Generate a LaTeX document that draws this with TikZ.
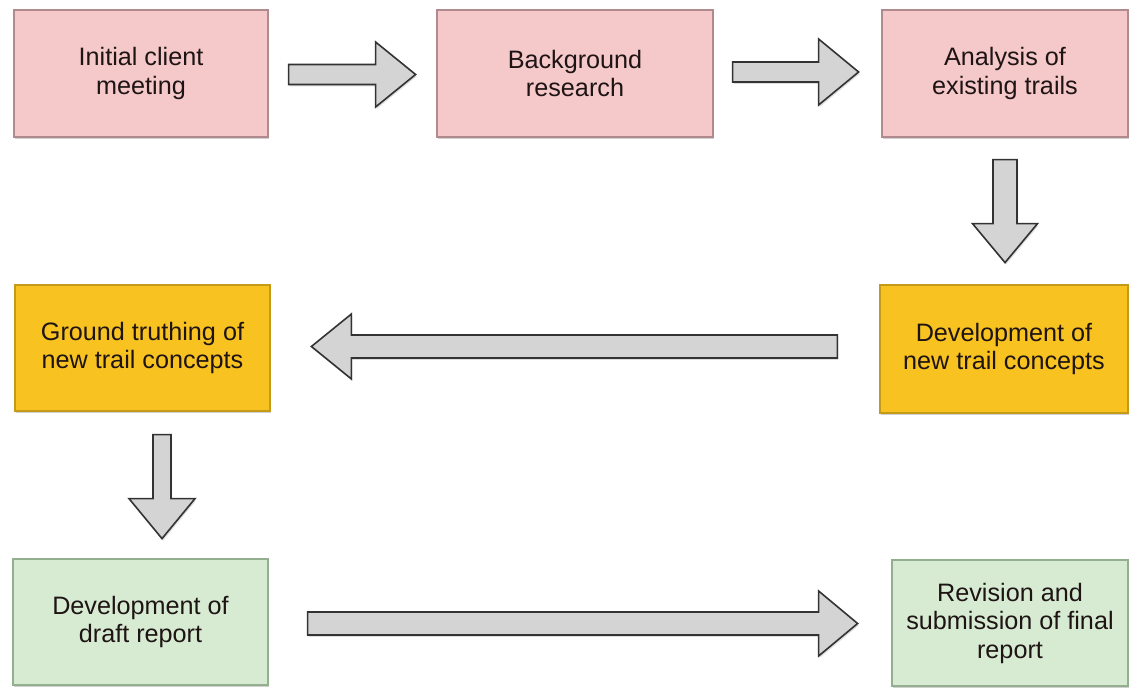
\documentclass[tikz,border=0pt]{standalone}
\usepackage{fontspec}
\setmainfont{Liberation Sans}
\usetikzlibrary{calc,shadows}
\definecolor{pinkfill}{HTML}{F5C8CA}
\definecolor{pinkline}{HTML}{B08a8c}
\definecolor{yelfill}{HTML}{F8C221}
\definecolor{yelline}{HTML}{C49A18}
\definecolor{grnfill}{HTML}{D7EBD3}
\definecolor{grnline}{HTML}{93AF8F}
\definecolor{arrfill}{HTML}{D4D4D4}
\definecolor{arrline}{HTML}{333333}
\definecolor{txt}{HTML}{1E1414}
\newcommand{\blockarr}[6]{%
  \begin{scope}[shift={#1},rotate=#2]
    \draw[arrbody] (0,-#4) -- ({#3-#6},-#4) -- ({#3-#6},-#5) -- (#3,0)
      -- ({#3-#6},#5) -- ({#3-#6},#4) -- (0,#4) -- cycle;
  \end{scope}}
\tikzset{
  stagebox/.style={rectangle, line width=1.2pt, align=center, text=txt,
    font=\fontsize{25.2}{28.5}\selectfont,
    drop shadow={shadow xshift=1pt, shadow yshift=-2.5pt, fill=black!30, opacity=0.6}},
  pinkbox/.style={stagebox, fill=pinkfill, draw=pinkline},
  yelbox/.style={stagebox, fill=yelfill, draw=yelline},
  grnbox/.style={stagebox, fill=grnfill, draw=grnline},
  arrbody/.style={fill=arrfill, draw=arrline, line width=1.6pt, line join=miter,
    drop shadow={shadow xshift=1pt, shadow yshift=-2pt, fill=black!25, opacity=0.5}}
}
\begin{document}
\begin{tikzpicture}[x=1pt,y=1pt]
\fill[white] (0,0) rectangle (1130,688);
\useasboundingbox (0,0) rectangle (1130,688);
% boxes
\node[pinkbox, minimum width=254pt, minimum height=127pt] (b1) at (141,614.5) {Initial client\\meeting};
\node[pinkbox, minimum width=276pt, minimum height=127pt] (b2) at (575,614.5) {Background\\research};
\node[pinkbox, minimum width=246pt, minimum height=127pt] (b3) at (1005,614.5) {Analysis of\\existing trails};
\node[yelbox, minimum width=248pt, minimum height=128pt] (b4) at (1004,339) {Development of\\new trail concepts};
\node[yelbox, minimum width=255pt, minimum height=126pt] (b5) at (142.5,340) {Ground truthing of\\new trail concepts};
\node[grnbox, minimum width=255pt, minimum height=126pt] (b6) at (140.5,66) {Development of\\draft report};
\node[grnbox, minimum width=236pt, minimum height=126pt] (b7) at (1010,65) {Revision and\\submission of final\\report};
% block arrows
\blockarr{($(b1.east)+(20,-1)$)}{0}{127}{10}{32.5}{40}
\blockarr{($(b2.east)+(19,1.5)$)}{0}{126}{10}{33}{40}
\blockarr{($(b3.south)+(0,-22)$)}{-90}{103}{12}{32.5}{39}
\blockarr{($(b4.west)+(-42,2.5)$)}{180}{526}{11.5}{32.5}{40}
\blockarr{($(b5.south)+(19.5,-23)$)}{-90}{104}{9}{33}{40}
\blockarr{($(b6.east)+(39,-1.5)$)}{0}{550}{11.5}{32.5}{39}
\end{tikzpicture}
\end{document}
